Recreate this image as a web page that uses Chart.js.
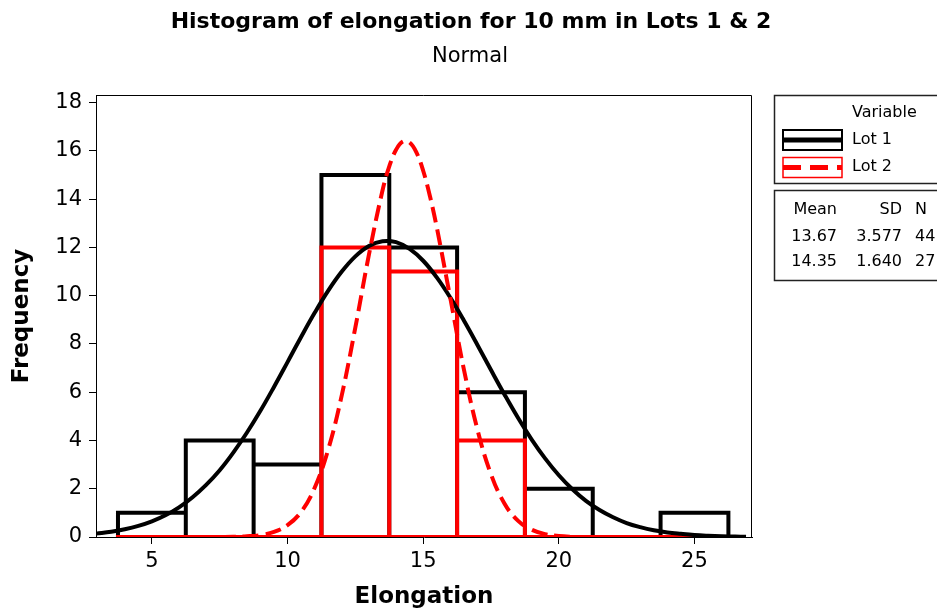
<!DOCTYPE html>
<html>
<head>
<meta charset="utf-8">
<script src="https://cdn.jsdelivr.net/npm/chart.js@4.4.1/dist/chart.umd.min.js"></script>
<style>
  html, body { margin: 0; padding: 0; background: #fff; }
</style>
</head>
<body>
<canvas id="histChart" width="937" height="612"></canvas>
<script>
// histogram bins (bin width 2.5) and counts per lot
var binEdges = [3.75, 6.25, 8.75, 11.25, 13.75, 16.25, 18.75, 21.25, 23.75, 26.25];
var lot1Counts = [1, 4, 3, 15, 12, 6, 2, 0, 1];
var lot2Counts = [0, 0, 0, 12, 11, 4, 0, 0, 0];

// fitted normal curves
var fitX1 = [2.95, 3.5, 4, 4.5, 5, 5.5, 6, 6.5, 7, 7.5, 8, 8.5, 9, 9.5, 10, 10.5, 11, 11.5, 12, 12.5,
  13, 13.5, 14, 14.5, 15, 15.5, 16, 16.5, 17, 17.5, 18, 18.5, 19, 19.5, 20, 20.5, 21, 21.5, 22, 22.5,
  23, 23.5, 24, 24.5, 25, 25.5, 26, 26.5, 26.9];
var lot1Fit = [0.14, 0.22, 0.32, 0.46, 0.65, 0.90, 1.23, 1.65, 2.16, 2.77, 3.50, 4.32, 5.23, 6.22, 7.25, 8.29, 9.29, 10.21, 11.00, 11.63,
  12.06, 12.26, 12.22, 11.94, 11.45, 10.76, 9.92, 8.97, 7.96, 6.92, 5.90, 4.93, 4.04, 3.25, 2.56, 1.98, 1.50, 1.12, 0.82, 0.58,
  0.41, 0.28, 0.19, 0.13, 0.08, 0.05, 0.03, 0.02, 0.01];
var fitX2 = [7.5, 8, 8.5, 9, 9.5, 10, 10.5, 11, 11.5, 12, 12.5, 13, 13.5, 13.75, 14, 14.25, 14.5, 14.75, 15, 15.25,
  15.5, 16, 16.5, 17, 17.5, 18, 18.5, 19, 19.5, 20, 20.5, 21];
var lot2Fit = [0.00, 0.01, 0.03, 0.08, 0.21, 0.49, 1.04, 2.04, 3.63, 5.88, 8.69, 11.70, 14.36, 15.36, 16.05, 16.39, 16.35, 15.94, 15.18, 14.12,
  12.84, 9.90, 6.95, 4.45, 2.60, 1.38, 0.67, 0.30, 0.12, 0.04, 0.01, 0.00];

var xTicks = [5, 10, 15, 20, 25];
var yTicks = [0, 2, 4, 6, 8, 10, 12, 14, 16, 18];

var statHeaders = ['Mean', 'SD', 'N'];
var lot1Stats = ['13.67', '3.577', '44'];
var lot2Stats = ['14.35', '1.640', '27'];
var lotNames = ['Lot 1', 'Lot 2'];

var FONT = '"DejaVu Sans", Verdana, sans-serif';

// outline of the histogram bars as one path
function histPath(counts) {
  var pts = [];
  for (var i = 0; i < counts.length; i++) {
    pts.push({x: binEdges[i], y: 0});
    pts.push({x: binEdges[i], y: counts[i]});
    pts.push({x: binEdges[i + 1], y: counts[i]});
    pts.push({x: binEdges[i + 1], y: 0});
  }
  pts.push({x: binEdges[0], y: 0});
  return pts;
}

function toPoints(xs, ys) {
  return xs.map(function (x, i) { return {x: x, y: ys[i]}; });
}

var minitabDecor = {
  id: 'minitabDecor',
  afterDraw: function (chart) {
    var ctx = chart.ctx, a = chart.chartArea;
    ctx.save();
    // top and right of the plot frame
    ctx.strokeStyle = '#000';
    ctx.lineWidth = 1;
    ctx.beginPath();
    ctx.moveTo(a.left, Math.round(a.top) + 0.5);
    ctx.lineTo(Math.round(a.right) - 0.5, Math.round(a.top) + 0.5);
    ctx.lineTo(Math.round(a.right) - 0.5, a.bottom);
    ctx.stroke();

    // titles
    ctx.fillStyle = '#000';
    ctx.textAlign = 'center';
    ctx.textBaseline = 'middle';
    ctx.font = 'bold 22px ' + FONT;
    ctx.fillText('Histogram of elongation for 10 mm in Lots 1 & 2', 471, 22);
    ctx.font = '21px ' + FONT;
    ctx.fillText('Normal', 470, 57);

    // legend box
    ctx.strokeStyle = '#222';
    ctx.lineWidth = 1.5;
    ctx.strokeRect(774.5, 95.5, 180, 88);
    ctx.strokeRect(774.5, 190.5, 180, 90);

    ctx.font = '16px ' + FONT;
    ctx.textAlign = 'left';
    ctx.fillText('Variable', 852, 113);
    ctx.fillText(lotNames[0], 852, 140);
    ctx.fillText(lotNames[1], 852, 167);

    ctx.strokeStyle = '#000';
    ctx.lineWidth = 2;
    ctx.strokeRect(783, 130, 59, 20);
    ctx.lineWidth = 5;
    ctx.beginPath();
    ctx.moveTo(783, 140);
    ctx.lineTo(842, 140);
    ctx.stroke();

    ctx.strokeStyle = '#ff0000';
    ctx.lineWidth = 1.5;
    ctx.strokeRect(783, 157.5, 59, 20);
    ctx.lineWidth = 5;
    ctx.setLineDash([18, 9]);
    ctx.beginPath();
    ctx.moveTo(783, 167.5);
    ctx.lineTo(842, 167.5);
    ctx.stroke();
    ctx.setLineDash([]);

    // stats table
    var rows = [statHeaders, lot1Stats, lot2Stats];
    var ys = [210, 237, 262];
    rows.forEach(function (r, i) {
      ctx.textAlign = 'right';
      ctx.fillText(r[0], 837, ys[i]);
      ctx.fillText(r[1], 902, ys[i]);
      ctx.textAlign = 'left';
      ctx.fillText(r[2], 915, ys[i]);
    });
    ctx.restore();
  }
};

var ctx = document.getElementById('histChart').getContext('2d');
var histChart = new Chart(ctx, {
  type: 'scatter',
  data: {
    datasets: [{
      label: 'Lot 2 fit',
      data: toPoints(fitX2, lot2Fit),
      showLine: true,
      borderColor: '#ff0000',
      borderWidth: 4,
      borderDash: [16, 7],
      tension: 0.4,
      pointRadius: 0,
      order: 0
    }, {
      label: 'Lot 1 fit',
      data: toPoints(fitX1, lot1Fit),
      showLine: true,
      borderColor: '#000',
      borderWidth: 4,
      tension: 0.4,
      pointRadius: 0,
      order: 1
    }, {
      label: lotNames[1],
      data: histPath(lot2Counts),
      showLine: true,
      borderColor: '#ff0000',
      borderWidth: 4,
      borderJoinStyle: 'miter',
      borderCapStyle: 'square',
      tension: 0,
      pointRadius: 0,
      order: 2
    }, {
      label: lotNames[0],
      data: histPath(lot1Counts),
      showLine: true,
      borderColor: '#000',
      borderWidth: 4,
      borderJoinStyle: 'miter',
      borderCapStyle: 'square',
      tension: 0,
      pointRadius: 0,
      order: 3
    }]
  },
  options: {
    responsive: false,
    animation: false,
    layout: {
      padding: {top: 95, right: 185, left: 0, bottom: 0}
    },
    plugins: {
      legend: {
        display: false
      },
      tooltip: {
        enabled: false
      }
    },
    scales: {
      x: {
        type: 'linear',
        min: 2.94,
        max: 27.12,
        afterFit: function (s) { s.height = 75; },
        afterBuildTicks: function (s) {
          s.ticks = xTicks.map(function (v) { return {value: v}; });
        },
        grid: {
          drawOnChartArea: false,
          color: '#000',
          tickLength: 7
        },
        border: {
          color: '#000'
        },
        ticks: {
          maxRotation: 0,
          autoSkip: false,
          padding: 5,
          color: '#000',
          font: {family: FONT, size: 21}
        },
        title: {
          display: true,
          text: 'Elongation',
          color: '#000',
          padding: {top: 0, bottom: 1},
          font: {family: FONT, size: 23, weight: 'bold'}
        }
      },
      y: {
        min: 0,
        max: 18.32,
        afterFit: function (s) { s.width = 96; },
        afterBuildTicks: function (s) {
          s.ticks = yTicks.map(function (v) { return {value: v}; });
        },
        grid: {
          drawOnChartArea: false,
          color: '#000',
          tickLength: 7
        },
        border: {
          color: '#000'
        },
        ticks: {
          autoSkip: false,
          padding: 7,
          color: '#000',
          font: {family: FONT, size: 21}
        },
        title: {
          display: true,
          text: 'Frequency',
          color: '#000',
          padding: {top: 8, bottom: 0},
          font: {family: FONT, size: 23, weight: 'bold'}
        }
      }
    }
  },
  plugins: [minitabDecor]
});
</script>
</body>
</html>
